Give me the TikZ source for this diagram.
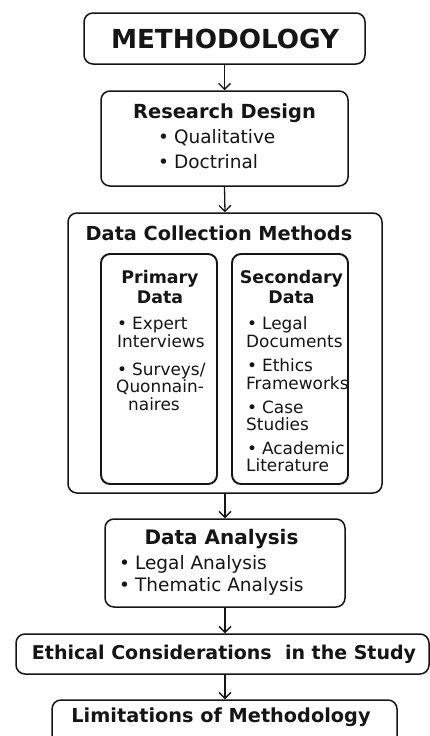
\documentclass[tikz,border=0pt]{standalone}
\usepackage{fontspec}
\setmainfont{DejaVu Sans}
\usetikzlibrary{arrows.meta}
\definecolor{ink}{HTML}{151515}
\begin{document}
\begin{tikzpicture}[x=1pt,y=-1pt,
  box/.style={draw=ink, line width=1.5pt, rounded corners=9pt, inner sep=0pt},
  inbox/.style={draw=ink, line width=1.9pt, rounded corners=9pt, inner sep=0pt},
  flow/.style={draw=ink, line width=1.3pt, -{Straight Barb[length=6pt,width=12pt,line width=1.3pt]}},
  ttl/.style={inner sep=0pt, text=ink, font=\bfseries},
  itm/.style={inner sep=0pt, anchor=west, text=ink, text height=0.72em, text depth=0.2em},
  bul/.style={itm, font=\fontsize{18.5}{20}\selectfont},
  sbul/.style={itm, font=\fontsize{16.9}{18}\selectfont}
]
\useasboundingbox (0,0) rectangle (430,736);
\fill[white] (0,0) rectangle (430,736);

% boxes
\node[box, minimum width=281pt, minimum height=51pt] (meth) at (224.5,38.5) {};
\node[box, minimum width=247pt, minimum height=95pt] (rd) at (224.5,138.5) {};
\node[box, minimum width=314pt, minimum height=280pt] (dc) at (225,353) {};
\node[inbox, minimum width=116pt, minimum height=230pt] (prim) at (159,369) {};
\node[inbox, minimum width=116pt, minimum height=230pt] (sec) at (290,369) {};
\node[box, minimum width=240pt, minimum height=88pt] (da) at (225,563) {};
\node[box, minimum width=413pt, minimum height=40pt] (eth) at (222.5,654) {};
\node[box, minimum width=345pt, minimum height=52pt] (lim) at (224.5,726) {};

% arrows
\draw[flow] (meth.south) -- (rd.north);
\draw[flow] (rd.south) -- (dc.north);
\draw[flow] (dc.south) -- (da.north);
\draw[flow] (da.south) -- (eth.north -| da.south);
\draw[flow] (eth.south -| da.south) -- (lim.north -| da.south);

% titles
\node[ttl, font=\fontsize{26.2}{28}\selectfont\bfseries] (tmeth) at (225,39) {METHODOLOGY};
\node[ttl, font=\fontsize{19.4}{21}\selectfont\bfseries] (trd) at (224.5,113) {Research Design};
\node[bul] (rd1) at (158,141) {•\hspace{5pt}Qualitative};
\node[bul] (rd2) at (158,166) {•\hspace{5pt}Doctrinal};

\node[ttl, font=\fontsize{19.3}{21}\selectfont\bfseries] (tdc) at (219,233) {Data Collection Methods};
\node[ttl, font=\fontsize{17.4}{20}\selectfont\bfseries, align=center] (tprim) at (160,287) {Primary\\Data};
\node[ttl, font=\fontsize{17.4}{20}\selectfont\bfseries, align=center] (tsec) at (291.5,287) {Secondary\\Data};

\node[sbul] (p1) at (117,327) {•\hspace{5pt}Expert};
\node[sbul] (p1b) at (117,345) {Interviews};
\node[sbul] (p2) at (117,373) {•\hspace{5pt}Surveys/};
\node[sbul] (p2b) at (116,390) {Quonnain-};
\node[sbul] (p2c) at (128,408) {naires};

\node[sbul] (s1) at (247,327) {•\hspace{5pt}Legal};
\node[sbul] (s1b) at (246,345) {Documents};
\node[sbul] (s2) at (247,369) {•\hspace{5pt}Ethics};
\node[sbul] (s2b) at (246,387) {Frameworks};
\node[sbul] (s3) at (247,411) {•\hspace{5pt}Case};
\node[sbul] (s3b) at (246,428) {Studies};
\node[sbul] (s4) at (247,452) {•\hspace{5pt}Academic};
\node[sbul] (s4b) at (246,469) {Literature};

\node[ttl, font=\fontsize{20}{22}\selectfont\bfseries] (tda) at (221.5,539) {Data Analysis};
\node[bul] (da1) at (119,567) {•\hspace{5pt}Legal Analysis};
\node[bul] (da2) at (119,589) {•\hspace{5pt}Thematic Analysis};

\node[ttl, font=\fontsize{19}{21}\selectfont\bfseries] (teth) at (224,654) {Ethical Considerations\ \ in the Study};
\node[ttl, font=\fontsize{19.3}{21}\selectfont\bfseries] (tlim) at (221,717) {Limitations of Methodology};
\end{tikzpicture}
\end{document}
